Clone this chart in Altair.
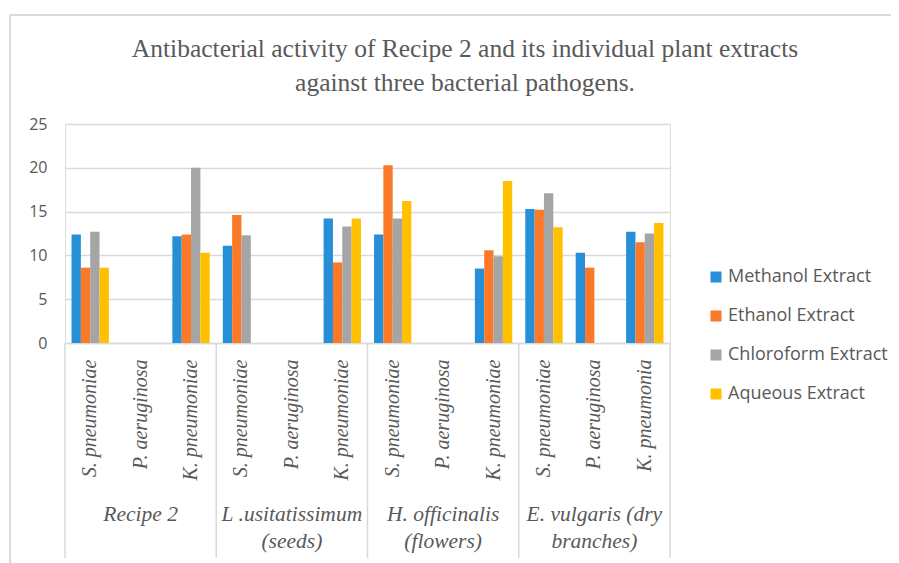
import altair as alt
import pandas as pd

title_lines = "Antibacterial activity of Recipe 2 and its individual plant extracts\nagainst three bacterial pathogens."
groups = ["Recipe 2", "L .usitatissimum\n(seeds)", "H.  officinalis\n(flowers)", "E. vulgaris (dry\nbranches)"]
bacteria = [
    ["S. pneumoniae", "P. aeruginosa", "K. pneumoniae"],
    ["S. pneumoniae", "P. aeruginosa", "K. pneumoniae"],
    ["S. pneumoniae", "P. aeruginosa", "K. pneumoniae"],
    ["S. pneumoniae", "P. aeruginosa", "K. pneumonia"],
]
extracts = ["Methanol Extract", "Ethanol Extract", "Chloroform Extract", "Aqueous Extract"]
colors = ["#2590D8", "#FB7A29", "#A5A5A5", "#FFC000"]

methanol = [12.4, None, 12.2, 11.1, None, 14.2, 12.4, None, 8.5, 15.3, 10.3, 12.7]
ethanol = [8.6, None, 12.4, 14.6, None, 9.2, 20.3, None, 10.6, 15.2, 8.6, 11.5]
chloroform = [12.7, None, 20.0, 12.3, None, 13.3, 14.2, None, 9.9, 17.1, None, 12.5]
aqueous = [8.6, None, 10.3, None, None, 14.2, 16.2, None, 18.5, 13.2, None, 13.7]
series = [methanol, ethanol, chloroform, aqueous]

keys = []
for gi, bl in enumerate(groups):
    for bi, b in enumerate(bacteria[gi]):
        keys.append(f"{gi}{bi}|{b}")

rows = []
for ei, ext in enumerate(extracts):
    for ki, k in enumerate(keys):
        v = series[ei][ki]
        if v is not None:
            rows.append({"cat": k, "extract": ext, "value": v})
df = pd.DataFrame(rows)

GRID = "#D9D9D9"
TXT = "#595959"
H = 219
W = 605

xscale = alt.Scale(domain=keys, paddingInner=0, paddingOuter=0)

bars = alt.Chart(df).mark_bar().encode(
    x=alt.X("cat:N", sort=keys, scale=xscale, title=None,
            axis=alt.Axis(labelExpr="split(datum.label, '|')[1]", labelAngle=270,
                          labelFont="Liberation Serif", labelFontStyle="italic",
                          labelFontSize=20, labelColor=TXT, labelPadding=16,
                          ticks=False, domainColor=GRID, domainWidth=1.5)),
    xOffset=alt.XOffset("extract:N", sort=extracts,
                        scale=alt.Scale(domain=extracts, paddingOuter=0.7, paddingInner=0)),
    y=alt.Y("value:Q", title=None, scale=alt.Scale(domain=[0, 25], nice=False),
            axis=alt.Axis(values=[0, 5, 10, 15, 20, 25], domain=False, ticks=False,
                          gridColor=GRID, gridWidth=1.5, labelFont="Open Sans",
                          labelFontSize=16, labelColor=TXT, labelPadding=18)),
    color=alt.Color("extract:N", sort=extracts,
                    scale=alt.Scale(domain=extracts, range=colors),
                    legend=alt.Legend(title=None, orient="none", legendX=642, legendY=144,
                                      symbolType="square", symbolSize=121,
                                      symbolStrokeWidth=0, labelFont="Open Sans",
                                      labelFontSize=18, labelColor=TXT, rowPadding=21,
                                      labelOffset=3)),
)

sep_left = pd.DataFrame({"cat": [keys[0], keys[3], keys[6], keys[9]]})
sep_right = pd.DataFrame({"cat": [keys[11]]})

seps_l = alt.Chart(sep_left).mark_rule(color=GRID, strokeWidth=1.5).encode(
    x=alt.X("cat:N", sort=keys, scale=xscale, bandPosition=0),
    y=alt.value(H), y2=alt.value(434))
seps_r = alt.Chart(sep_right).mark_rule(color=GRID, strokeWidth=1.5).encode(
    x=alt.X("cat:N", sort=keys, scale=xscale, bandPosition=1),
    y=alt.value(H), y2=alt.value(434))

glabels = pd.DataFrame({"cat": [keys[1], keys[4], keys[7], keys[10]], "label": groups})
gtext = alt.Chart(glabels).mark_text(
    font="Liberation Serif", fontStyle="italic", fontSize=21.5, color=TXT,
    baseline="top", align="center", lineBreak="\n", lineHeight=27).encode(
    x=alt.X("cat:N", sort=keys, scale=xscale),
    y=alt.value(380), text="label:N")

frame = pd.DataFrame({"k": [0]})
frame_left = alt.Chart(frame).mark_rule(color=GRID, strokeWidth=2).encode(
    x=alt.value(-55), y=alt.value(-109), y2=alt.value(460))
frame_top = alt.Chart(frame).mark_rule(color=GRID, strokeWidth=2).encode(
    x=alt.value(-55), x2=alt.value(900), y=alt.value(-109))

tdf = pd.DataFrame({"t": [title_lines]})
title = alt.Chart(tdf).mark_text(
    font="Liberation Serif", fontSize=25.5, color=TXT, align="center",
    baseline="alphabetic", lineBreak="\n", lineHeight=34).encode(
    x=alt.value(400), y=alt.value(-67), text="t:N")

chart = alt.layer(frame_left, frame_top, seps_l, seps_r, bars, gtext, title).properties(
    width=W, height=H,
    autosize=alt.AutoSizeParams(type="none"),
    padding={"left": 57, "top": 116, "right": 221, "bottom": 220},
).configure_view(strokeWidth=0).configure(background="white")

chart.save("out.html", embed_options={"renderer": "svg", "actions": False})
